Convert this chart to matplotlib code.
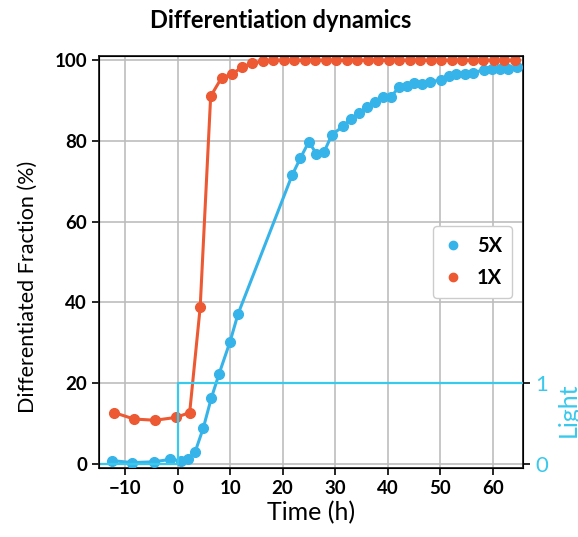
import matplotlib
matplotlib.use("Agg")
import matplotlib.pyplot as plt
from matplotlib.lines import Line2D

plt.rcParams['font.family'] = ['Lato', 'DejaVu Sans']

# 5X series
t_5x = [-12.5, -8.6, -4.5, -1.4, 0.6, 2.0, 3.35, 4.9, 6.4, 7.9, 10.0, 11.5,
        21.8, 23.4, 25.0, 26.4, 27.9, 29.4, 31.5, 33.0, 34.5, 36.1, 37.6, 39.2,
        40.7, 42.1, 43.6, 45.1, 46.6, 48.1, 50.2, 51.7, 53.1, 54.7, 56.2, 58.3,
        59.9, 61.4, 63.0, 64.6]
v_5x = [0.8, 0.3, 0.5, 1.1, 0.75, 1.1, 3.0, 8.9, 16.2, 22.3, 30.3, 37.1,
        71.5, 75.8, 79.8, 76.9, 77.3, 81.6, 83.6, 85.5, 86.9, 88.5, 89.6, 90.8,
        91.0, 93.3, 93.6, 94.4, 94.0, 94.7, 95.1, 96.2, 96.6, 96.7, 96.9, 97.6,
        97.9, 97.9, 97.9, 98.4]

# 1X series
t_1x = [-12.1, -8.3, -4.3, -0.3, 2.3, 4.3, 6.3, 8.4, 10.3, 12.25, 14.2, 16.2,
        18.2, 20.2, 22.2, 24.2, 26.2, 28.2, 30.2, 32.2, 34.2, 36.2, 38.2, 40.2,
        42.2, 44.2, 46.2, 48.2, 50.2, 52.2, 54.2, 56.2, 58.2, 60.2, 62.2, 64.2]
v_1x = [12.7, 11.1, 10.8, 11.5, 12.7, 38.8, 91.1, 95.7, 96.5, 98.3, 99.3, 99.7,
        100, 100, 100, 100, 100, 100, 100, 100, 100, 100, 100, 100,
        100, 100, 100, 100, 100, 100, 100, 100, 100, 100, 100, 100]

# Light stimulus (step)
t_light = [-15, 0, 0, 66]
v_light = [0, 0, 1, 1]

x_ticks = [-10, 0, 10, 20, 30, 40, 50, 60]
y_ticks = [0, 20, 40, 60, 80, 100]

c_5x = '#36b4e9'
c_1x = '#ec5932'
c_light = '#38c9ec'

fig = plt.figure(figsize=(5.78, 5.37), dpi=100)
ax = fig.add_axes([0.171, 0.128, 0.734, 0.768])

ax.plot(t_5x, v_5x, '-o', color=c_5x, lw=2.2, ms=7, zorder=3)
ax.plot(t_1x, v_1x, '-o', color=c_1x, lw=2.2, ms=7, zorder=3)

ax.set_xlim(-15, 65.8)
ax.set_ylim(-1.1, 101.1)
ax.set_xticks(x_ticks)
ax.set_yticks(y_ticks)
ax.grid(True, color='#bdbdbd', lw=1.2)
ax.set_axisbelow(True)
for lab in ax.get_xticklabels() + ax.get_yticklabels():
    lab.set_fontweight('bold')
ax.tick_params(axis='both', labelsize=13.5, length=5, width=1.2, direction='out')
for s in ax.spines.values():
    s.set_linewidth(1.3)
    s.set_color('#222222')

ax.set_xlabel('Time (h)', fontsize=18, labelpad=3)
ax.set_ylabel('Differentiated Fraction (%)', fontsize=15.5)
ax.yaxis.set_label_coords(-0.143, 0.44)
fig.text(0.486, 0.962, 'Differentiation dynamics', ha='center', va='center',
         fontsize=17, fontweight='bold')

ax2 = ax.twinx()
ax2.plot(t_light, v_light, '-', color=c_light, lw=1.6)
ax2.set_ylim(-1.1 / 20, 101.1 / 20)
ax2.set_yticks([0, 1])
ax2.tick_params(axis='y', labelsize=16, length=5, width=1.2, labelcolor=c_light)
fig.text(568 / 578, 1 - 410 / 537, 'Light', rotation=90, ha='center', va='center',
         fontsize=18, color=c_light)

handles = [Line2D([], [], marker='o', ls='none', color=c_5x, ms=6),
           Line2D([], [], marker='o', ls='none', color=c_1x, ms=6)]
leg = ax.legend(handles, ['5X', '1X'], loc='center right',
                bbox_to_anchor=(0.974, 0.5), borderaxespad=0,
                prop={'weight': 'bold', 'size': 14.5},
                handlelength=1.0, handletextpad=0.7, borderpad=0.5,
                labelspacing=0.6, fancybox=True, framealpha=1, edgecolor='#cccccc')

fig.savefig('out.png', dpi=100)
